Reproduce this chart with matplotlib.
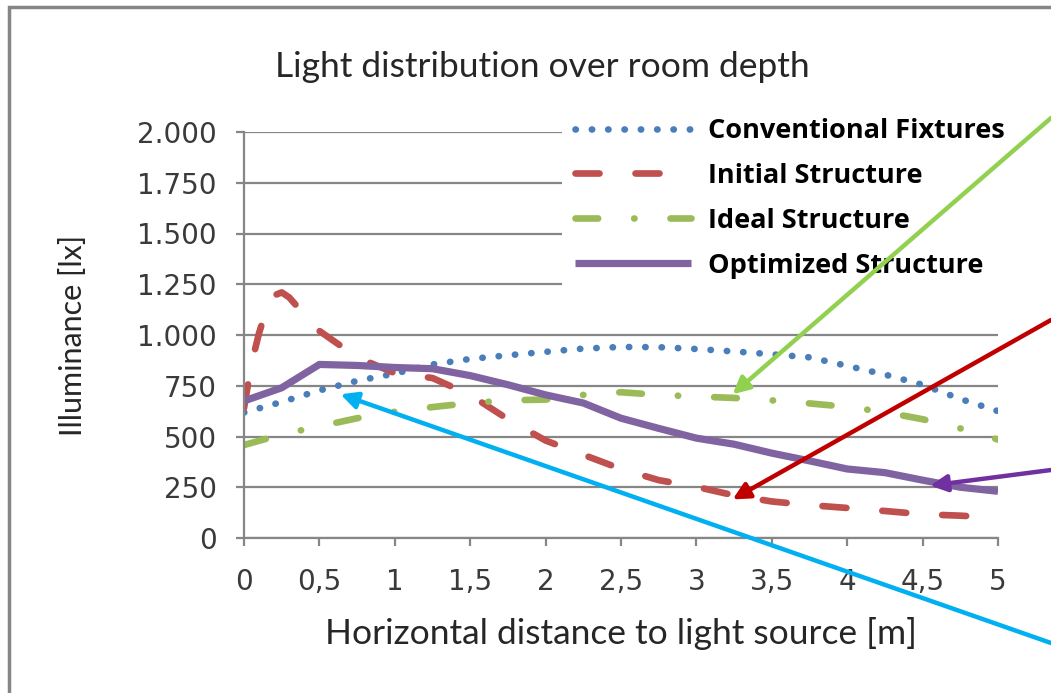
import matplotlib
matplotlib.use('Agg')
import matplotlib.pyplot as plt
from matplotlib.patches import Rectangle

# distance from light source [m]
X = [0, 0.25, 0.5, 0.75, 1.0, 1.25, 1.5, 1.75, 2.0, 2.25, 2.5,
     2.75, 3.0, 3.25, 3.5, 3.75, 4.0, 4.25, 4.5, 4.75, 5.0]

conventional = [618, 670, 727, 774, 810, 855, 882, 900, 917, 933, 941,
                940, 931, 919, 905, 890, 848, 805, 755, 685, 625]

# initial structure has a sharp peak near the window, so a few extra points there
initial_x = [0, 0.05, 0.1, 0.15, 0.2, 0.25, 0.3, 0.4, 0.5, 0.75, 1.0, 1.25, 1.5,
             1.75, 2.0, 2.25, 2.5, 2.75, 3.0, 3.25, 3.5, 3.75, 4.0, 4.25, 4.5, 4.75, 5.0]
initial = [640, 860, 1010, 1130, 1195, 1210, 1185, 1100, 1020, 890, 812, 788, 705,
           585, 480, 410, 340, 285, 252, 210, 180, 162, 148, 133, 117, 110, 100]

ideal = [458, 510, 550, 590, 622, 645, 665, 678, 682, 705, 718,
         705, 697, 690, 678, 663, 646, 620, 585, 540, 485]

optimized = [675, 740, 855, 850, 840, 834, 800, 755, 705, 665, 590,
             540, 492, 462, 418, 380, 340, 322, 285, 250, 230]

XTICKS = [0, 0.5, 1, 1.5, 2, 2.5, 3, 3.5, 4, 4.5, 5]
XTICK_LABELS = ['0', '0,5', '1', '1,5', '2', '2,5', '3', '3,5', '4', '4,5', '5']
YTICKS = [0, 250, 500, 750, 1000, 1250, 1500, 1750, 2000]
YTICK_LABELS = ['0', '250', '500', '750', '1.000', '1.250', '1.500', '1.750', '2.000']

W, H = 1051, 693
fig = plt.figure(figsize=(W / 100, H / 100), dpi=100)
ax = fig.add_axes([244 / W, 1 - 538 / H, (998 - 244) / W, (538 - 132) / H])

grid_c = '#868686'
lw = 4.8
ax.plot(X, conventional, color='#4A7EBB', lw=lw, dashes=(0.05, 2.4),
        dash_capstyle='round', label='Conventional Fixtures')
ax.plot(initial_x, initial, color='#C0504D', lw=lw, dashes=(3.6, 5.4),
        dash_capstyle='round', label='Initial Structure')
ax.plot(X, ideal, color='#9BBB59', lw=lw, dashes=(3.4, 5.4, 0.05, 5.4),
        dash_capstyle='round', label='Ideal Structure')
ax.plot(X, optimized, color='#8064A2', lw=5.2, solid_capstyle='butt',
        solid_joinstyle='round', label='Optimized Structure')

ax.set_xlim(0, 5)
ax.set_ylim(0, 2000)
ax.set_xticks(XTICKS, XTICK_LABELS)
ax.set_yticks(YTICKS, YTICK_LABELS)
ax.yaxis.grid(True, color=grid_c, lw=1.6)
ax.set_axisbelow(True)
for s in ['top', 'right']:
    ax.spines[s].set_visible(False)
for s in ['left', 'bottom']:
    ax.spines[s].set_color(grid_c)
    ax.spines[s].set_linewidth(1.6)
ax.tick_params(axis='both', direction='out', length=5.5, width=1.6, color=grid_c,
               labelsize=20, labelcolor='#3a3a3a')
ax.tick_params(axis='y', pad=14)
ax.tick_params(axis='x', pad=16)
for t in ax.get_xticklabels() + ax.get_yticklabels():
    t.set_family('DejaVu Sans')

ax.set_xlabel('Horizontal distance to light source [m]', family='Lato',
              fontsize=25.5, color='#262626', labelpad=15)
ax.set_ylabel('Illuminance [lx]', family='Lato', fontsize=22,
              color='#262626', labelpad=36)
fig.text(542 / W, 1 - 67 / H, 'Light distribution over room depth', family='Lato',
         fontsize=25.5, color='#262626', ha='center', va='center')

leg = ax.legend(loc='upper left', bbox_to_anchor=(562 / W, 1 - 105 / H),
                bbox_transform=fig.transFigure, frameon=True, fancybox=False,
                edgecolor='none', facecolor='white', framealpha=1, borderaxespad=0,
                borderpad=0.48, handlelength=4.3, handletextpad=0.62,
                labelspacing=0.70, prop={'family': 'Open Sans', 'weight': 'bold', 'size': 19.5})
leg.set_zorder(5)

# outer chart frame (cut off at the right and bottom in the original)
fig.add_artist(Rectangle((9 / W, -0.2), 1.2, 1 - 7 / H + 0.2, transform=fig.transFigure,
                         fill=False, edgecolor=grid_c, lw=2.5))

# pointer arrows coming in from the right edge
arrows = [
    ((3.24, 708), 1 - 118 / H, '#92D050'),
    ((3.24, 190), 1 - 320 / H, '#C00000'),
    ((4.55, 258), 1 - 470 / H, '#7030A0'),
    ((0.64, 708), 1 - 643 / H, '#00B0F0'),
]
for tip, ty, c in arrows:
    ax.annotate('', xy=tip, xycoords='data', xytext=(1.0, ty), textcoords='figure fraction',
                arrowprops=dict(arrowstyle='-|>,head_length=1.0,head_width=0.5', color=c,
                                lw=3.2, shrinkA=0, shrinkB=0),
                annotation_clip=False, zorder=10)

fig.savefig('out.png', dpi=100)
